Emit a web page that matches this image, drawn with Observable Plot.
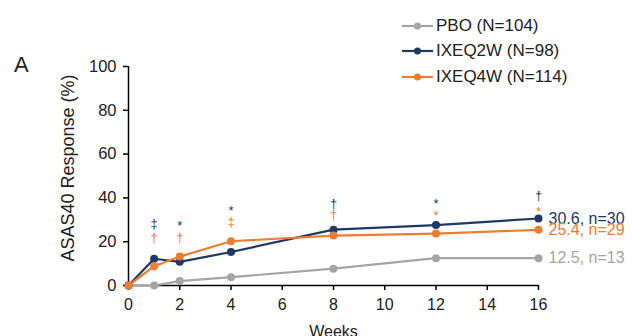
<!DOCTYPE html>
<html>
<head>
<meta charset="utf-8">
<script src="https://cdn.jsdelivr.net/npm/d3@7"></script>
<script src="https://cdn.jsdelivr.net/npm/@observablehq/plot@0.6"></script>
<style>
  html, body { margin: 0; padding: 0; background: #fff; }
  #wrap { position: relative; width: 637px; height: 336px; overflow: hidden; font-family: "Liberation Sans", Arial, sans-serif; color: #222; }
  #panel { position: absolute; left: 14px; top: 52px; font-size: 22px; }
  #legend { position: absolute; left: 402px; top: 13px; font-size: 17px; }
  #legend .row { display: flex; align-items: center; height: 25.5px; }
  #legend svg { margin-right: 2px; }
</style>
</head>
<body>
<div id="wrap">
  <div id="chart"></div>
  <div id="panel">A</div>
  <div id="legend"></div>
</div>
<script>
// ---- data ----
const weeks = [0, 1, 2, 4, 8, 12, 16];
const seriesNames = ["PBO", "IXEQ2W", "IXEQ4W"];
const seriesN = [104, 98, 114];
const pbo    = [0, 0, 2.0, 3.8, 7.7, 12.5, 12.5];
const ixeq2w = [0, 12.2, 10.8, 15.3, 25.5, 27.6, 30.6];
const ixeq4w = [0, 8.8, 13.2, 20.2, 22.8, 23.7, 25.4];
const endN = [13, 30, 29];
const xTicks = [0, 2, 4, 6, 8, 10, 12, 14, 16];
const yTicks = [0, 20, 40, 60, 80, 100];
// significance markers (week, symbol, height in % units)
const sigWeeks = [1, 2, 4, 8, 12, 16];
const sig2wSym = ["‡", "*", "*", "†", "*", "†"];
const sig2wY   = [28.3, 27.4, 34.2, 37.4, 37.4, 41.1];
const sig4wSym = ["†", "†", "‡", "†", "*", "*"];
const sig4wY   = [21.9, 21.9, 29.2, 32.4, 32.0, 33.8];

const colors = ["#a5a5a5", "#1f3864", "#ed7d31"];
const values = [pbo, ixeq2w, ixeq4w];

const tables = values.map((vals, s) => weeks.map((w, i) => ({week: w, value: vals[i], series: seriesNames[s]})));
const ends = values.map((vals, s) => ({week: weeks[weeks.length - 1], value: vals[vals.length - 1], label: `${vals[vals.length - 1].toFixed(1)}, n=${endN[s]}`, s}));
const sig2 = sigWeeks.map((w, i) => ({week: w, y: sig2wY[i], t: sig2wSym[i]}));
const sig4 = sigWeeks.map((w, i) => ({week: w, y: sig4wY[i], t: sig4wSym[i]}));

const marks = [
  Plot.axisY({ticks: yTicks, tickSize: 5, tickPadding: 7, label: null, fontSize: 16.5, stroke: "#000", strokeWidth: 1.5}),
  Plot.axisX({ticks: xTicks, tickSize: 5, tickPadding: 8, label: null, fontSize: 16, stroke: "#000", strokeWidth: 1.5}),
  Plot.ruleX([0], {y1: 0, y2: 100, stroke: "#000", strokeWidth: 1.5}),
  Plot.ruleY([0], {x1: 0, x2: 16, stroke: "#000", strokeWidth: 1.5}),
  Plot.text(["ASAS40 Response (%)"], {frameAnchor: "left", textAnchor: "middle", lineAnchor: "middle", rotate: -90, dx: -60, dy: -8, fontSize: 18, fill: "#222"}),
  Plot.text(["Weeks"], {frameAnchor: "bottom", lineAnchor: "top", dy: 40, fontSize: 16, fill: "#222"})
];
tables.forEach((t, s) => {
  marks.push(Plot.line(t, {x: "week", y: "value", stroke: colors[s], strokeWidth: 2.2}));
  marks.push(Plot.dot(t, {x: "week", y: "value", fill: colors[s], r: 4}));
});
marks.push(Plot.text(ends, {x: "week", y: "value", text: "label", dx: 10, textAnchor: "start", fontSize: 16, fill: d => colors[d.s]}));
marks.push(Plot.text(sig2, {x: "week", y: "y", text: "t", fontSize: 13, fill: colors[1]}));
marks.push(Plot.text(sig4, {x: "week", y: "y", text: "t", fontSize: 13, fill: colors[2]}));

const chart = Plot.plot({
  width: 637, height: 336,
  marginLeft: 128, marginRight: 99, marginTop: 66, marginBottom: 51,
  x: {domain: [0, 16]},
  y: {domain: [0, 100]},
  style: {fontFamily: "'Liberation Sans', Arial, sans-serif", color: "#222", background: "transparent", overflow: "visible"},
  marks
});
document.getElementById("chart").appendChild(chart);

// legend
const legend = document.getElementById("legend");
seriesNames.forEach((name, s) => {
  const row = document.createElement("div");
  row.className = "row";
  row.innerHTML = `<svg width="32" height="12"><line x1="0" y1="6" x2="31" y2="6" stroke="${colors[s]}" stroke-width="2.2"/><circle cx="15.5" cy="6" r="3.5" fill="${colors[s]}"/></svg><span>${name} (N=${seriesN[s]})</span>`;
  legend.appendChild(row);
});
</script>
</body>
</html>
